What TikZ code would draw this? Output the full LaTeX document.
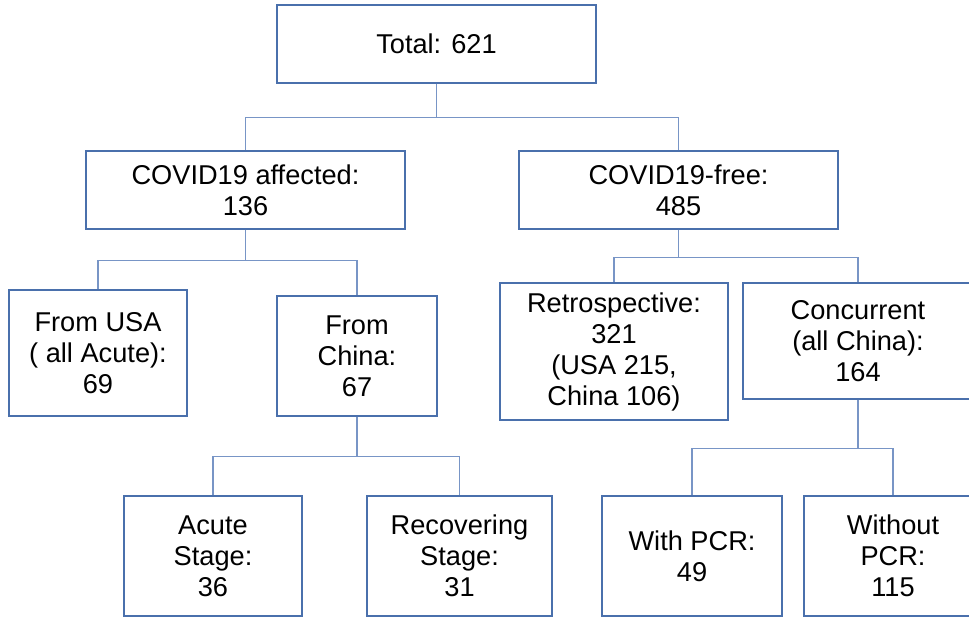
\documentclass[tikz,border=0pt]{standalone}
\usepackage{fontspec}
\setmainfont{Liberation Sans}
\definecolor{boxblue}{HTML}{4A70AC}
\definecolor{lineblue}{HTML}{7895C6}
\tikzset{box/.style={draw=boxblue,line width=1.1pt,align=center,inner sep=0pt,
    font=\fontsize{27.2}{31}\selectfont},
  conn/.style={draw=lineblue,line width=1.3pt}}

\begin{document}
\begin{tikzpicture}[x=1pt,y=-1pt]
\useasboundingbox (0,0) rectangle (969,617);
\clip (0,0) rectangle (969,617);
% top levels
\node[box,minimum width=319,minimum height=78] (tot) at (436.5,44) {Total: 621};
\node[box,minimum width=319,minimum height=78] (aff) at (245.5,190) {COVID19 affected:\\136};
\node[box,minimum width=319,minimum height=78] (free) at (678.5,190) {COVID19-free:\\485};
% third level
\node[box,minimum width=178,minimum height=126] (usa) at (98,353) {From USA\\( all Acute):\\69};
\node[box,minimum width=160,minimum height=120] (china) at (357,356) {From\\China:\\67};
\node[box,minimum width=228,minimum height=137] (retro) at (614,351.5) {Retrospective:\\321\\(USA 215,\\China 106)};
\node[box,minimum width=230,minimum height=116] (conc) at (858,341) {Concurrent\\(all China):\\164};
% bottom row
\node[box,minimum width=178,minimum height=120] (acute) at (213,556) {Acute\\Stage:\\36};
\node[box,minimum width=185,minimum height=120] (recov) at (459.5,556) {Recovering\\Stage:\\31};
\node[box,minimum width=180,minimum height=120] (pcr) at (692,556) {With PCR:\\49};
\node[box,minimum width=178,minimum height=120] (npcr) at (893,556) {Without\\PCR:\\115};
% connectors
\foreach \p/\c/\d in {tot/aff/34, tot/free/34, aff/usa/31, aff/china/31,
    free/retro/28, free/conc/28, china/acute/40, china/recov/40,
    conc/pcr/49, conc/npcr/49}
  \draw[conn] (\p.south) -- ++(0,\d) -| (\c.north);
\end{tikzpicture}
\end{document}
